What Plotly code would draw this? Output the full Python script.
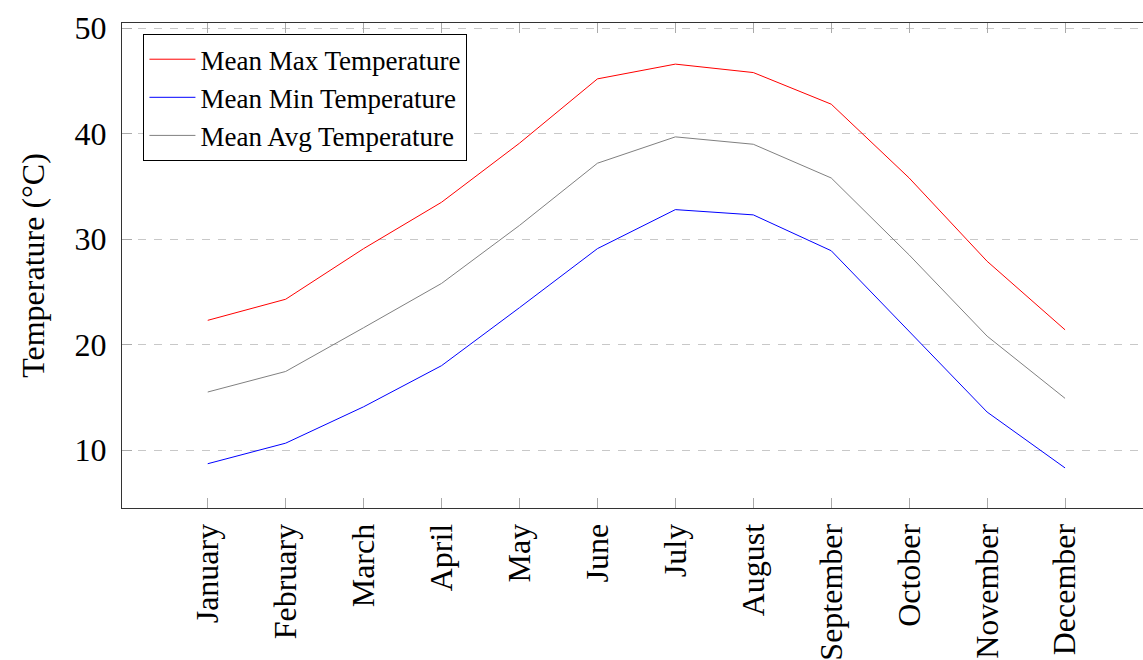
import plotly.graph_objects as go

# Monthly climate normals (°C)
months = ["January", "February", "March", "April", "May", "June",
          "July", "August", "September", "October", "November", "December"]
mean_max = [22.3, 24.3, 29.1, 33.5, 39.1, 45.2, 46.6, 45.8, 42.8, 35.8, 27.9, 21.4]
mean_min = [8.7, 10.65, 14.1, 18.0, 23.5, 29.1, 32.8, 32.3, 28.9, 21.3, 13.6, 8.3]
mean_avg = [15.5, 17.45, 21.6, 25.8, 31.3, 37.2, 39.7, 39.0, 35.8, 28.5, 20.8, 14.9]

FONT = "Liberation Serif"

fig = go.Figure()
fig.add_trace(go.Scatter(x=months, y=mean_max, mode="lines", name="Mean Max Temperature",
                         line=dict(color="#ff0000", width=1)))
fig.add_trace(go.Scatter(x=months, y=mean_min, mode="lines", name="Mean Min Temperature",
                         line=dict(color="#0000ff", width=1)))
fig.add_trace(go.Scatter(x=months, y=mean_avg, mode="lines", name="Mean Avg Temperature",
                         line=dict(color="#808080", width=1)))

fig.update_layout(
    width=1143, height=660,
    margin=dict(l=122, r=0, t=23, b=152),
    paper_bgcolor="white", plot_bgcolor="white",
    font=dict(family=FONT, size=32, color="black"),
    showlegend=True,
    legend=dict(x=0.021, y=0.977, xanchor="left", yanchor="top",
                bgcolor="white", bordercolor="black", borderwidth=1,
                font=dict(family=FONT, size=27, color="black"),
                tracegroupgap=0, itemwidth=46),
)

fig.update_xaxes(
    type="category", range=[-1.1, 12.0],
    showgrid=False, zeroline=False,
    showline=True, linecolor="#333333", linewidth=1, mirror="ticks",
    ticks="inside", ticklen=10, tickcolor="#aaaaaa", tickwidth=1,
    tickangle=-90, tickfont=dict(family=FONT, size=32, color="black"),
    automargin=False, ticklabelstandoff=2,
)
fig.update_yaxes(
    range=[4.5, 50.5], tickvals=[10, 20, 30, 40, 50],
    showgrid=True, gridcolor="#c8c8c8", gridwidth=1, griddash="8px,8px",
    zeroline=False,
    showline=True, linecolor="#333333", linewidth=1,
    ticks="inside", ticklen=10, tickcolor="#aaaaaa", tickwidth=1,
    tickfont=dict(family=FONT, size=32, color="black"),
    title=dict(text="Temperature (°C)", font=dict(family=FONT, size=32, color="black"), standoff=20),
    automargin=False, ticklabelstandoff=8,
)

fig.write_html("out.html")
